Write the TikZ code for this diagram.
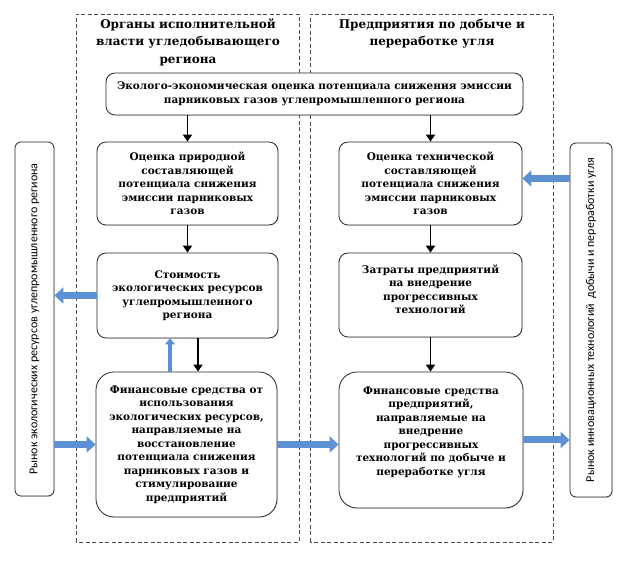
\documentclass[tikz,border=0pt]{standalone}
\usepackage{fontspec}
\setmainfont{DejaVu Serif}
\newfontfamily\marketfont{Carlito}
\usetikzlibrary{arrows.meta, positioning, shadows}
\definecolor{arrowblue}{RGB}{92,145,212}

\tikzset{
  box/.style={draw=black!85, fill=white, rounded corners=9pt, line width=0.8pt, align=center,
    font=\bfseries\fontsize{10.5}{13.5}\selectfont, inner sep=2pt,
    drop shadow={opacity=0.2, shadow xshift=1pt, shadow yshift=-1pt}},
  bigbox/.style={box, rounded corners=18pt},
  market/.style={draw=black!85, fill=white, rounded corners=6pt, line width=0.8pt,
    font=\marketfont\fontsize{12}{14}\selectfont, inner sep=0pt,
    drop shadow={opacity=0.2, shadow xshift=1pt, shadow yshift=-1pt}},
  zone/.style={draw=black!70, line width=0.8pt, dash pattern=on 4pt off 2.5pt},
  title/.style={align=center, font=\bfseries\fontsize{12}{17.5}\selectfont},
  flow/.style={-{Triangle[width=9pt,length=7pt]}, line width=1.9pt},
  blueflow/.style={-{Triangle[width=16pt,length=9pt]}, line width=7pt, draw=arrowblue},
  thinblue/.style={-{Triangle[width=10pt,length=6pt]}, line width=3.5pt, draw=arrowblue}
}

\begin{document}
\begin{tikzpicture}[x=1pt,y=1pt]

            \useasboundingbox (0,0) rectangle (624,564);

            % Пунктирные области
            \draw[zone] (76,22) rectangle (299,550); % органы власти
            \draw[zone] (310,22) rectangle (553,550); % предприятия
            \node[title] (ltitle) at (188,522) {Органы исполнительной\\власти угледобывающего\\региона};
            \node[title] (rtitle) at (432,530.5) {Предприятия по добыче и\\переработке угля};

            % Общая оценка
            \node[box, minimum width=417pt, minimum height=42pt] (eval) at (314.5,470)
                {Эколого-экономическая оценка потенциала снижения эмиссии\\парниковых газов углепромышленного региона};

            % Левая колонка
            \node[box, minimum width=181pt, minimum height=83pt] (lnat) at (187.5,380.5)
                {Оценка природной\\составляющей\\потенциала снижения\\эмиссии парниковых\\газов};
            \node[box, minimum width=181pt, minimum height=85pt] (lcost) at (187.5,268.5)
                {Стоимость\\экологических ресурсов\\углепромышленного\\региона};
            \node[bigbox, minimum width=181pt, minimum height=145pt] (lfin) at (186.5,119.5)
                {Финансовые средства от\\использования\\экологических ресурсов,\\направляемые на\\восстановление\\потенциала снижения\\парниковых газов и\\стимулирование\\предприятий};

            % Правая колонка
            \node[box, minimum width=183pt, minimum height=83pt] (rtech) at (430.5,380.5)
                {Оценка технической\\составляющей\\потенциала снижения\\эмиссии парниковых\\газов};
            \node[box, minimum width=183pt, minimum height=84pt] (rcost) at (430.5,269)
                {Затраты предприятий\\на внедрение\\прогрессивных\\технологий\\[-1.5pt]\mbox{}};
            \node[bigbox, minimum width=184pt, minimum height=136pt] (rfin) at (431,124)
                {Финансовые средства\\предприятий,\\направляемые на\\внедрение\\прогрессивных\\технологий по добыче и\\переработке угля\\[4.5pt]\mbox{}};

            % Рынки
            \node[market, minimum width=39pt, minimum height=354pt] (lmarket) at (34.5,245)
                {\rotatebox{90}{Рынок экологических ресурсов углепромышленного региона}};
            \node[market, minimum width=42pt, minimum height=354pt] (rmarket) at (591,244)
                {\rotatebox{90}{Рынок инновационных технологий\ \ добычи и переработки угля}};

            % Черные стрелки
            \draw[flow] (eval.south -| lnat.north) -- (lnat.north);
            \draw[flow] (eval.south -| rtech.north) -- (rtech.north);
            \draw[flow] (lnat) -- (lcost);
            \draw[flow] ([xshift=10.5pt]lcost.south) -- ([xshift=10.5pt]lcost.south |- lfin.north);
            \draw[flow] (rtech) -- (rcost);
            \draw[flow] (rcost.south) -- (rcost.south |- rfin.north);

            % Синие стрелки
            \draw[thinblue] ([xshift=-16.5pt]lfin.north) -- ([xshift=-16.5pt]lfin.north |- lcost.south);
            \draw[blueflow] (lcost.west) -- (lcost.west -| lmarket.east);
            \draw[blueflow] (lmarket.east |- lfin.west) -- (lfin.west);
            \draw[blueflow] (lfin.east) -- (lfin.east -| rfin.west);
            \draw[blueflow] (rfin.east) -- (rfin.east -| rmarket.west);
            \draw[blueflow] ([yshift=5pt]rmarket.west |- rtech.east) -- ([yshift=5pt]rtech.east);

\end{tikzpicture}
\end{document}
